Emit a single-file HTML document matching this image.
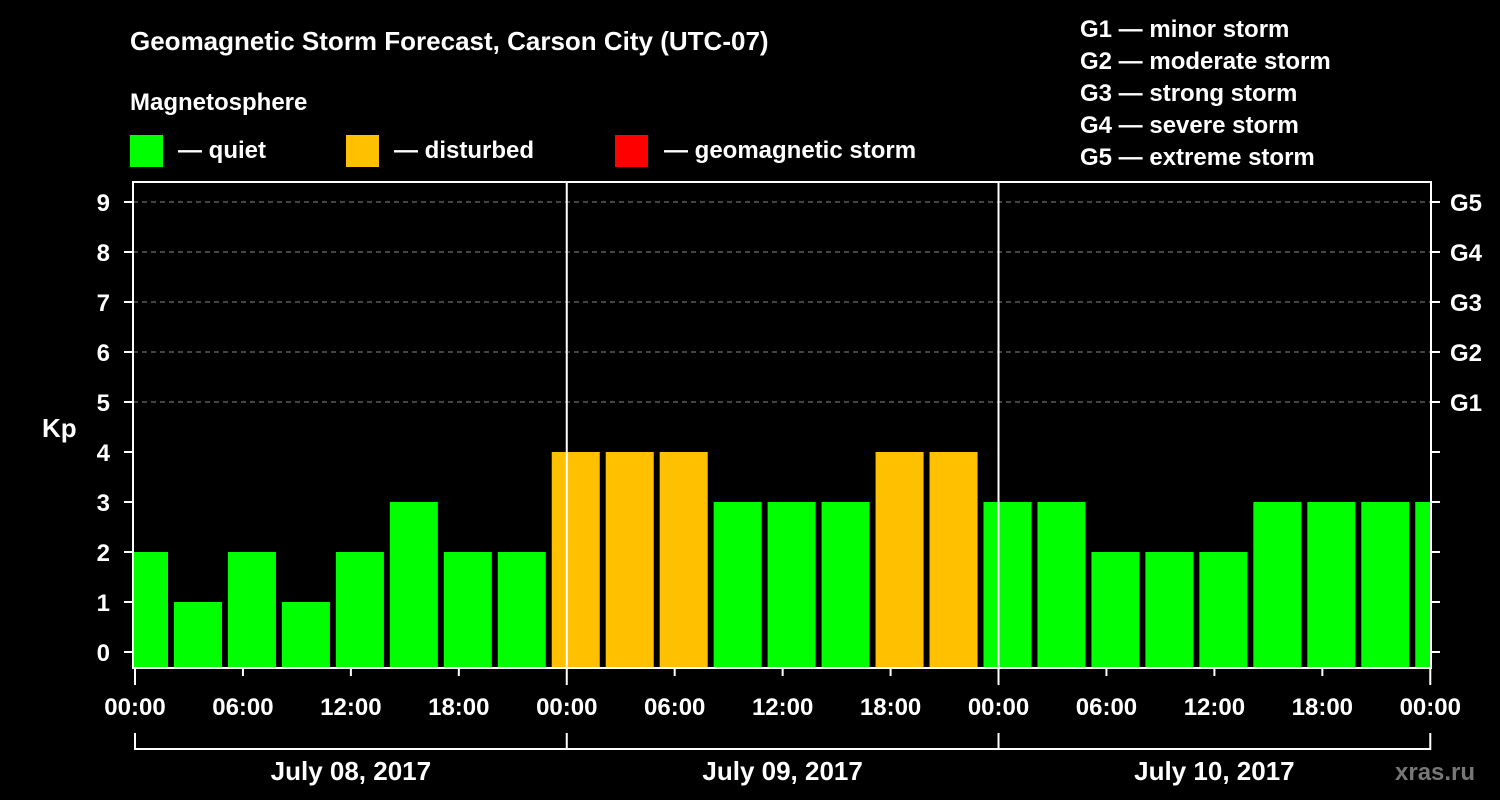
<!DOCTYPE html>
<html><head><meta charset="utf-8"><style>
html,body{margin:0;padding:0;background:#000;}
svg{display:block;font-family:"Liberation Sans",Arial,sans-serif;font-weight:bold;}
</style></head><body>
<svg id="chart" width="1500" height="800" viewBox="0 0 1500 800">
<rect width="1500" height="800" fill="#000"/>
<text x="130" y="50" fill="#fff" font-size="26">Geomagnetic Storm Forecast, Carson City (UTC-07)</text>
<text x="130" y="110" fill="#fff" font-size="24">Magnetosphere</text>
<g><rect x="130" y="135" width="33" height="32" fill="#00ff00"/><text x="178" y="158" fill="#fff" font-size="24">— quiet</text></g>
<g><rect x="346" y="135" width="33" height="32" fill="#ffc000"/><text x="394" y="158" fill="#fff" font-size="24">— disturbed</text></g>
<g><rect x="615" y="135" width="33" height="32" fill="#ff0000"/><text x="664" y="158" fill="#fff" font-size="24">— geomagnetic storm</text></g>
<g fill="#fff" font-size="24">
<text x="1080" y="37">G1 — minor storm</text>
<text x="1080" y="69">G2 — moderate storm</text>
<text x="1080" y="101">G3 — strong storm</text>
<text x="1080" y="133">G4 — severe storm</text>
<text x="1080" y="165">G5 — extreme storm</text>
</g>
<text x="42" y="437" fill="#fff" font-size="26">Kp</text>
<text x="1395" y="780" fill="#777" font-size="24">xras.ru</text>
<defs><clipPath id="plotclip"><rect x="133" y="182" width="1298" height="486"/></clipPath></defs>
<g id="grid"></g>
<g id="bars" clip-path="url(#plotclip)"></g>
<g id="axes"></g>
</svg>
<script>
const kpValues=[2,1,2,1,2,3,2,2, 4,4,4,3,3,3,4,4, 3,3,2,2,2,3,3,3, 3];
const kpTicks=[0,1,2,3,4,5,6,7,8,9];
const gLabels=["G1","G2","G3","G4","G5"];
const gLevels=[5,6,7,8,9];
const timeLabels=["00:00","06:00","12:00","18:00"];
const dayLabels=["July 08, 2017","July 09, 2017","July 10, 2017"];
const barHours=3;

const NS="http://www.w3.org/2000/svg";
const X0=135,PXH=17.99,Y0=652,PXK=50,LEFT=133,RIGHT=1431,TOP=182,BOT=668;
const x=h=>X0+h*PXH;
const y=k=>Y0-k*PXK;
function mk(tag,attrs,parent){const e=document.createElementNS(NS,tag);for(const k in attrs)e.setAttribute(k,attrs[k]);parent.appendChild(e);return e;}
const grid=document.getElementById('grid'),bars=document.getElementById('bars'),axes=document.getElementById('axes');

gLevels.forEach((k,i)=>{
  const l=mk('line',{x1:LEFT,x2:RIGHT,y1:y(k),y2:y(k),stroke:'#888','stroke-width':1,'stroke-dasharray':'5,4'},grid);
  
  
  const t=mk('text',{x:1450,y:y(k)+9,fill:'#fff','font-size':24},axes);
  t.textContent=gLabels[i];
  
  
});

kpValues.forEach((v,i)=>{
  const c=x(i*barHours+0.5), w=2.67*PXH;
  const col=v>=5?'#ff0000':(v>=4?'#ffc000':'#00ff00');
  const r=mk('rect',{x:c-w/2,y:y(v),width:w,height:BOT-y(v),fill:col},bars);
  
  
});

for(let d=1;d<3;d++){
  const l=mk('line',{x1:x(24*d),x2:x(24*d),y1:TOP,y2:BOT,stroke:'#fff','stroke-width':2},axes);
  
  
}
const fr=mk('rect',{x:LEFT,y:TOP,width:RIGHT-LEFT,height:BOT-TOP,fill:'none',stroke:'#fff','stroke-width':2},axes);



kpTicks.forEach(k=>{
  mk('line',{x1:LEFT-9,x2:LEFT,y1:y(k),y2:y(k),stroke:'#fff','stroke-width':2},axes);
  mk('line',{x1:RIGHT,x2:RIGHT+9,y1:y(k),y2:y(k),stroke:'#fff','stroke-width':2},axes);
  const t=mk('text',{x:110,y:y(k)+9,fill:'#fff','font-size':24,'text-anchor':'end'},axes);
  t.textContent=k;
  
  
});

for(let h=0;h<=72;h+=6){
  const major=h%24===0;
  mk('line',{x1:x(h),x2:x(h),y1:BOT,y2:BOT+(major?17:8),stroke:'#fff','stroke-width':2},axes);
  const t=mk('text',{x:x(h),y:715,fill:'#fff','font-size':24,'text-anchor':'middle'},axes);
  t.textContent=timeLabels[(h/6)%4];
  
  
}
const br=mk('path',{d:'',fill:'none',stroke:'#fff','stroke-width':2},axes);
let dpath='M'+x(0)+',749 L'+x(72)+',749';
for(let d=0;d<=3;d++) dpath+=' M'+x(24*d)+',733 L'+x(24*d)+',750';
br.setAttribute('d',dpath);


dayLabels.forEach((s,d)=>{
  const t=mk('text',{x:x(24*d+12),y:780,fill:'#fff','font-size':26,'text-anchor':'middle'},axes);
  t.textContent=s;
  
  
});
</script>
</body></html>
